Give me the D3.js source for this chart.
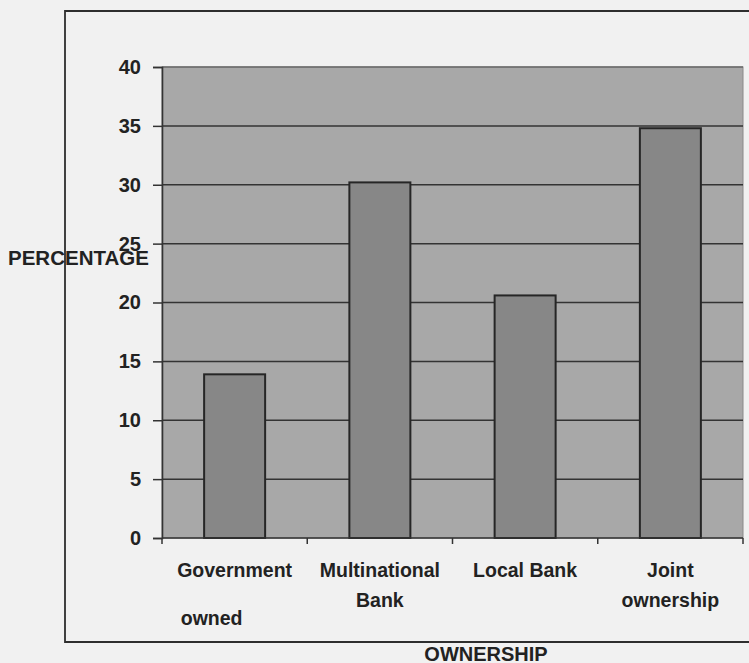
<!DOCTYPE html>
<html>
<head>
<meta charset="utf-8">
<script src="https://cdn.jsdelivr.net/npm/d3@7"></script>
<style>
  html, body { margin: 0; padding: 0; background: #f1f1f1; }
  svg { display: block; }
  text { font-family: "Liberation Sans", Arial, sans-serif; fill: #222; }
</style>
</head>
<body>
<svg id="chart" width="749" height="663"></svg>
<script>
// Bank ownership shares (percent)
const categories = ["Government owned", "Multinational Bank", "Local Bank", "Joint ownership"];
const categoryLines = [["Government", "owned"], ["Multinational", "Bank"], ["Local Bank"], ["Joint", "ownership"]];
const percentages = [13.9, 30.2, 20.6, 34.8];
const yTicks = [0, 5, 10, 15, 20, 25, 30, 35, 40];
const yTitle = "PERCENTAGE";
const xTitle = "OWNERSHIP";

const svg = d3.select("#chart");
const W = 749, H = 663;
const plot = { left: 162, right: 743, top: 67, bottom: 538 };

// outer frame (runs off the right edge)
svg.append("path")
  .attr("d", `M${W + 5},11 L65,11 L65,642 L${W + 5},642`)
  .attr("fill", "none")
  .attr("stroke", "#2e2e2e")
  .attr("stroke-width", 1.8);

const x = d3.scaleBand()
  .domain(categories)
  .range([plot.left, plot.right])
  .paddingInner(0.58)
  .paddingOuter(0.29);

const y = d3.scaleLinear()
  .domain([0, 40])
  .range([plot.bottom, plot.top]);

// plot area
svg.append("rect")
  .attr("x", plot.left).attr("y", plot.top)
  .attr("width", plot.right - plot.left)
  .attr("height", plot.bottom - plot.top)
  .attr("fill", "#a8a8a8")
  .attr("stroke", "#8a8a8a")
  .attr("stroke-width", 1);

// horizontal gridlines
svg.append("g")
  .selectAll("line")
  .data(yTicks.filter(d => d > 0))
  .join("line")
  .attr("x1", plot.left).attr("x2", plot.right)
  .attr("y1", d => y(d)).attr("y2", d => y(d))
  .attr("stroke", d => d === 40 ? "#6a6a6a" : "#333")
  .attr("stroke-width", 1.5);

// y axis
const yAxis = svg.append("g")
  .attr("transform", `translate(${plot.left},0)`)
  .call(d3.axisLeft(y).tickValues(yTicks).tickSize(9).tickPadding(12));
yAxis.select(".domain").attr("stroke", "#333").attr("stroke-width", 1.6);
yAxis.selectAll(".tick line").attr("stroke", "#333").attr("stroke-width", 1.5);
yAxis.selectAll(".tick text")
  .attr("fill", "#222")
  .style("font-size", "20px")
  .style("font-weight", "bold")
  .style("font-family", "'Liberation Sans', Arial, sans-serif");

// bars
svg.append("g")
  .selectAll("rect")
  .data(percentages)
  .join("rect")
  .attr("x", (d, i) => x(categories[i]))
  .attr("y", d => y(d))
  .attr("width", x.bandwidth())
  .attr("height", d => y(0) - y(d))
  .attr("fill", "#878787")
  .attr("stroke", "#262626")
  .attr("stroke-width", 2);

// x axis line with ticks between categories
const step = x.step();
const boundaries = d3.range(categories.length + 1).map(i => plot.left + i * step);
svg.append("line")
  .attr("x1", plot.left).attr("x2", plot.right)
  .attr("y1", plot.bottom).attr("y2", plot.bottom)
  .attr("stroke", "#333").attr("stroke-width", 1.6);
svg.append("g")
  .selectAll("line")
  .data(boundaries)
  .join("line")
  .attr("x1", d => d).attr("x2", d => d)
  .attr("y1", plot.bottom).attr("y2", plot.bottom + 6)
  .attr("stroke", "#333").attr("stroke-width", 1.5);

// category labels (the first label's second line sits lower and to the left)
const labels = svg.append("g");
categoryLines.forEach((lines, i) => {
  const cx = x(categories[i]) + x.bandwidth() / 2;
  lines.forEach((txt, j) => {
    const shifted = i === 0 && j === 1;
    labels.append("text")
      .attr("x", shifted ? cx - 23 : cx)
      .attr("y", j === 0 ? 577 : (shifted ? 625 : 607))
      .attr("text-anchor", "middle")
      .style("font-size", "19.5px")
      .style("font-weight", "bold")
      .text(txt);
  });
});

// axis titles
svg.append("text")
  .attr("x", 8).attr("y", 265)
  .style("font-size", "20.5px")
  .style("font-weight", "bold")
  .text(yTitle);

svg.append("text")
  .attr("x", 486).attr("y", 661)
  .attr("text-anchor", "middle")
  .style("font-size", "20px")
  .style("font-weight", "bold")
  .text(xTitle);
</script>
</body>
</html>
